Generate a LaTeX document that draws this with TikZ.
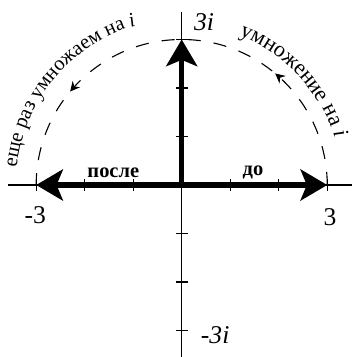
\documentclass[tikz,border=0pt]{standalone}
\usepackage{fontspec}
\setmainfont{Liberation Serif}
\usetikzlibrary{arrows.meta,decorations.markings,decorations.text}
\begin{document}
\begin{tikzpicture}[x=1cm,y=1cm,
  axisline/.style={line width=0.8pt},
  tickline/.style={line width=0.8pt},
  bigarrow/.style={line width=3pt,-{Stealth[length=0.55cm,width=0.64cm,inset=0.13cm]}},
  dashcircle/.style={line width=0.65pt,dash pattern=on 0.27cm off 0.27cm},
  numlabel/.style={font=\fontsize{15}{18}\selectfont,inner sep=0pt},
  wordlabel/.style={font=\fontsize{12}{14}\selectfont\bfseries,inner sep=0pt}
]
\useasboundingbox (-3.746,-3.546) rectangle (3.532,3.814);
\coordinate (O) at (0,0);
\coordinate (xl) at (-3.58,0);
\coordinate (xr) at (3.51,0);
\coordinate (yt) at (0,3.57);
\coordinate (yb) at (0,-3.6);
\coordinate (p3) at (3,0);
\coordinate (m3) at (-3,0);
\coordinate (i3) at (0,3);
% axes
\draw[axisline] (xl) -- (xr);
\draw[axisline] (yb) -- (yt);
\foreach \t in {-3,-2,-1,1,2,3}{
  \draw[tickline] (\t,-0.12) -- (\t,0.12);
  \draw[tickline] (-0.12,\t) -- (0.12,\t);
}
% dashed semicircle with arrows
\draw[dashcircle,
  postaction={decorate,decoration={markings,
    mark=at position 0.278 with {\arrow[solid]{Stealth[length=0.2cm,width=0.2cm]}},
    mark=at position 0.778 with {\arrow[solid]{Stealth[length=0.2cm,width=0.2cm]}}}}]
  (p3) arc[start angle=0,end angle=180,radius=3];
% thick arrows
\draw[bigarrow] (O) -- (p3);
\draw[bigarrow] (O) -- (m3);
\draw[bigarrow] (O) -- (i3);
% labels
\node[numlabel] (l3i) at (0.46,3.36) {\itshape 3i};
\node[numlabel] (lm3i) at (0.69,-3.1) {\itshape -3i};
\node[numlabel] (lm3) at (-3.02,-0.63) {-3};
\node[numlabel] (lp3) at (3.06,-0.66) {3};
\node[wordlabel] (posle) at (-1.41,0.26) {после};
\node[wordlabel] (do) at (1.47,0.26) {до};
% curved texts
\path[decorate,decoration={text along path,text align=left,
  text={|\fontsize{13}{15}\selectfont|умножение на |\fontsize{13}{15}\selectfont\itshape|i}}]
  (69:3.3) arc[start angle=69,end angle=0,radius=3.3];
\path[decorate,decoration={text along path,text align=left,
  text={|\fontsize{12}{14}\selectfont|еще раз умножаем на |\fontsize{12}{14}\selectfont\itshape|i}}]
  (174:3.42) arc[start angle=174,end angle=95,radius=3.42];
\end{tikzpicture}
\end{document}
